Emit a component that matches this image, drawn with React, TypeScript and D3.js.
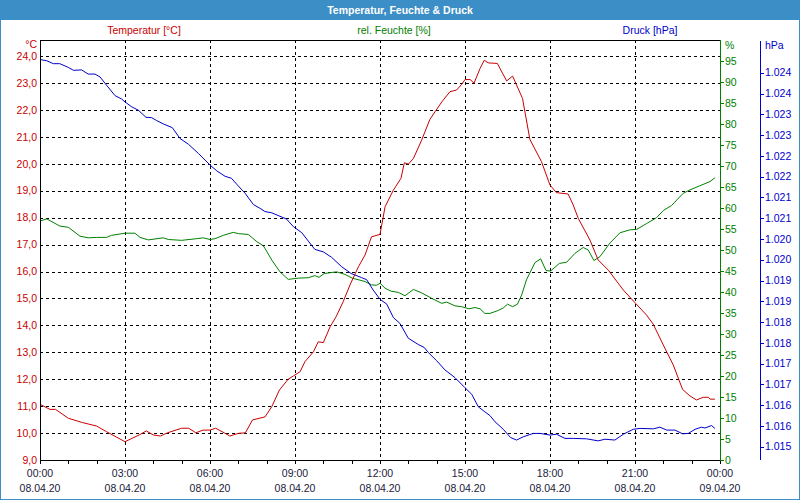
import * as d3 from "d3";

// [hour of day, value], 08.04.20
const tempSeries: [number, number][] = [
  [0, 11.07], [0.35, 10.88], [0.55, 10.88], [1, 10.55], [1.5, 10.39], [2, 10.26], [2.35, 10.05],
  [3, 9.68], [3.5, 9.93], [3.75, 10.08], [4, 9.93], [4.25, 9.89], [4.5, 10.01], [5, 10.18],
  [5.25, 10.18], [5.5, 10.01], [5.75, 10.11], [6, 10.11], [6.2, 10.18], [6.5, 10.01], [6.7, 9.89],
  [7, 9.99], [7.25, 10.01], [7.5, 10.49], [7.94, 10.6], [8.18, 10.98], [8.45, 11.6], [8.76, 12.0],
  [8.94, 12.12], [9.18, 12.28], [9.35, 12.65], [9.65, 13.02], [9.82, 13.39], [10, 13.36],
  [10.24, 13.95], [10.45, 14.32], [10.7, 14.88], [10.94, 15.5], [11.24, 16.18], [11.47, 16.61],
  [11.7, 17.29], [12, 17.38], [12.18, 18.41], [12.47, 19.02], [12.74, 19.46], [12.86, 20.04],
  [13.0, 19.99], [13.18, 20.2], [13.47, 20.88], [13.76, 21.65], [13.94, 21.93], [14.18, 22.3],
  [14.47, 22.68], [14.7, 22.74], [14.88, 22.95], [15.0, 23.13], [15.18, 23.13], [15.32, 23.0],
  [15.53, 23.54], [15.68, 23.85], [15.82, 23.75], [16.14, 23.73], [16.47, 23.08], [16.68, 23.26],
  [17.03, 22.43], [17.29, 20.91], [17.7, 20.08], [18, 19.21], [18.23, 18.93], [18.64, 18.88],
  [18.82, 18.47], [19.0, 17.97], [19.41, 17.17], [19.7, 16.43], [20.06, 16.05], [20.59, 15.31],
  [21.02, 14.82], [21.41, 14.38], [21.64, 14.05], [22.0, 13.27], [22.35, 12.53], [22.68, 11.62],
  [22.94, 11.38], [23.17, 11.23], [23.41, 11.33], [23.59, 11.33], [23.65, 11.26], [23.82, 11.26],
];

const humiditySeries: [number, number][] = [
  [0, 56.9], [0.24, 57.4], [0.7, 55.7], [1, 55.4], [1.41, 53.3], [1.7, 52.9], [2, 53.0],
  [2.35, 53.0], [2.53, 53.5], [3, 54.0], [3.35, 54.0], [3.53, 53.0], [3.82, 52.4], [4.35, 52.9],
  [4.53, 52.5], [5, 52.3], [5.53, 52.7], [5.76, 52.9], [6, 52.5], [6.18, 52.7], [6.47, 53.5],
  [6.82, 54.2], [7, 53.9], [7.35, 53.7], [7.65, 52.0], [7.88, 51.0], [7.94, 50.4], [8.18, 47.6],
  [8.47, 44.8], [8.76, 43.0], [9.12, 43.3], [9.47, 43.4], [9.7, 43.9], [9.85, 43.5], [10.03, 44.4],
  [10.47, 44.8], [10.76, 44.2], [11.02, 43.3], [11.47, 42.5], [11.7, 41.7], [11.88, 41.6],
  [12, 42.1], [12.18, 40.9], [12.39, 40.2], [12.65, 39.9], [12.88, 39.1], [13.18, 40.6],
  [13.47, 39.8], [13.82, 38.5], [14.18, 37.3], [14.35, 37.6], [14.65, 36.7], [14.88, 36.5],
  [15.14, 36.0], [15.35, 36.3], [15.53, 36.0], [15.7, 34.9], [15.88, 34.9], [16.17, 35.6],
  [16.35, 36.2], [16.5, 37.1], [16.68, 36.5], [16.85, 37.1], [17.0, 39.3], [17.17, 42.9],
  [17.47, 47.0], [17.67, 47.9], [17.86, 45.1], [18.02, 45.0], [18.33, 46.8], [18.59, 47.1],
  [18.88, 49.2], [19.17, 50.6], [19.35, 50.0], [19.55, 47.5], [19.76, 48.4], [20.12, 51.7],
  [20.47, 54.1], [20.82, 54.8], [21.06, 54.9], [21.41, 56.3], [21.76, 57.7], [22.0, 59.4],
  [22.29, 60.6], [22.7, 63.5], [22.94, 64.3], [23.29, 65.3], [23.65, 66.3], [23.82, 67.2],
];

const pressureSeries: [number, number][] = [
  [0, 1024.32], [0.24, 1024.29], [0.47, 1024.22], [0.7, 1024.22], [1, 1024.13], [1.18, 1024.06],
  [1.47, 1024.07], [1.7, 1023.97], [1.94, 1023.97], [2.12, 1023.9], [2.35, 1023.7], [2.65, 1023.45],
  [2.88, 1023.37], [3, 1023.3], [3.24, 1023.18], [3.47, 1023.1], [3.74, 1022.93], [3.94, 1022.92],
  [4.12, 1022.85], [4.35, 1022.77], [4.67, 1022.68], [4.94, 1022.42], [5.24, 1022.28],
  [5.59, 1022.06], [6, 1021.78], [6.24, 1021.64], [6.53, 1021.51], [6.76, 1021.46], [6.94, 1021.32],
  [7.24, 1021.1], [7.53, 1020.83], [7.76, 1020.74], [7.94, 1020.66], [8.18, 1020.63], [8.7, 1020.48],
  [8.94, 1020.3], [9.24, 1020.15], [9.7, 1019.75], [10.0, 1019.69], [10.29, 1019.56],
  [10.65, 1019.33], [10.98, 1019.17], [11.35, 1019.07], [11.53, 1019.02], [11.76, 1018.77],
  [12, 1018.55], [12.24, 1018.43], [12.47, 1018.11], [12.7, 1017.97], [13.0, 1017.61],
  [13.35, 1017.46], [13.56, 1017.39], [13.7, 1017.27], [14.0, 1017.07], [14.29, 1016.85],
  [14.65, 1016.66], [15, 1016.42], [15.24, 1016.26], [15.47, 1015.96], [15.7, 1015.84],
  [15.88, 1015.75], [16.06, 1015.6], [16.35, 1015.42], [16.61, 1015.22], [16.82, 1015.16],
  [17.06, 1015.24], [17.41, 1015.32], [17.65, 1015.32], [18, 1015.28], [18.23, 1015.3],
  [18.53, 1015.2], [18.82, 1015.2], [19.29, 1015.19], [19.7, 1015.14], [19.94, 1015.18],
  [20.29, 1015.16], [20.59, 1015.3], [20.94, 1015.42], [21.18, 1015.44], [21.65, 1015.43],
  [21.88, 1015.47], [22.12, 1015.4], [22.41, 1015.4], [22.68, 1015.31], [22.88, 1015.32],
  [23.12, 1015.42], [23.35, 1015.47], [23.47, 1015.45], [23.7, 1015.51], [23.82, 1015.44],
];

const tempTicks = d3.range(9, 25);
const humidityTicks = d3.range(0, 100, 5);
const pressureTicks = d3.range(1015, 1024.01, 0.5);
const pressureTickLabels = [
  "1.015", "1.016", "1.016", "1.017", "1.017", "1.018", "1.018", "1.019", "1.019", "1.020",
  "1.020", "1.021", "1.021", "1.022", "1.022", "1.023", "1.023", "1.024", "1.024",
];

const W = 800;
const H = 500;
const left = 40, right = 720, top = 40, bottom = 460;
const FONT = "Liberation Sans, Arial, sans-serif";
const FRAME = "#3c8ec6";
const RED = "#c80000";
const GREEN = "#008000";
const BLUE = "#0000cc";

const t0 = new Date(2020, 3, 8, 0, 0);
const t1 = new Date(2020, 3, 9, 0, 0);
const toDate = (h: number) => new Date(t0.getTime() + h * 3600 * 1000);

export default function App() {
  const x = d3.scaleTime().domain([t0, t1]).range([left, right]);
  const yT = d3.scaleLinear().domain([9, 24.6]).range([bottom, top]);
  const yH = d3.scaleLinear().domain([0, 100]).range([bottom, top]);
  const yP = d3.scaleLinear().domain([1014.68, 1024.79]).range([bottom, top]);

  const mk = (y: d3.ScaleLinear<number, number>) =>
    d3.line<[number, number]>()
      .x(d => x(toDate(d[0])))
      .y(d => y(d[1]));

  const majorTicks = x.ticks(d3.timeHour.every(3)!);
  const minorTicks = x.ticks(d3.timeHour.every(1)!);
  const fmtTime = d3.timeFormat("%H:%M");
  const fmtDate = d3.timeFormat("%d.%m.%y");
  const fmtT = (v: number) => d3.format(".1f")(v).replace(".", ",");
  const pAxisX = 760;

  return (
    <div style={{ position: "absolute", left: 0, top: 0 }}>
      <svg width={W} height={H} style={{ display: "block", fontFamily: FONT }}>
        <rect x={0} y={0} width={W} height={H} fill="#fff" />
        <rect x={0.5} y={0.5} width={W - 1} height={H - 1} fill="none" stroke={FRAME} />
        <rect x={0} y={0} width={W} height={20} fill={FRAME} />
        <text x={W / 2} y={10} dy="0.35em" textAnchor="middle" fill="#fff" fontWeight="bold" fontSize={10.5}>
          Temperatur, Feuchte &amp; Druck
        </text>

        {/* legend captions */}
        <text x={144} y={30} dy="0.35em" textAnchor="middle" fill={RED} fontSize={10.5}>Temperatur [°C]</text>
        <text x={394} y={30} dy="0.35em" textAnchor="middle" fill={GREEN} fontSize={10.5}>rel. Feuchte [%]</text>
        <text x={650} y={30} dy="0.35em" textAnchor="middle" fill={BLUE} fontSize={10.5}>Druck [hPa]</text>

        {/* grid */}
        <g stroke="#000" strokeDasharray="3,3" shapeRendering="crispEdges">
          {tempTicks.filter(v => v > 9).map(v => (
            <line key={"h" + v} x1={left} x2={right} y1={Math.round(yT(v)) + 0.5} y2={Math.round(yT(v)) + 0.5} />
          ))}
          {majorTicks.slice(1, -1).map(d => (
            <line key={"v" + d.getTime()} x1={Math.round(x(d)) + 0.5} x2={Math.round(x(d)) + 0.5} y1={top} y2={bottom} />
          ))}
        </g>

        {/* series */}
        <g fill="none" strokeWidth={1}>
          <path d={mk(yH)(humiditySeries)!} stroke={GREEN} />
          <path d={mk(yP)(pressureSeries)!} stroke={BLUE} />
          <path d={mk(yT)(tempSeries)!} stroke={RED} />
        </g>

        {/* frame of plot */}
        <g shapeRendering="crispEdges">
          <line x1={left} x2={right} y1={top + 0.5} y2={top + 0.5} stroke="#000" />
          <line x1={left + 0.5} x2={left + 0.5} y1={top} y2={bottom} stroke="#000" />
          <line x1={left} x2={right} y1={bottom + 0.5} y2={bottom + 0.5} stroke="#000" />
          <line x1={right + 0.5} x2={right + 0.5} y1={top} y2={bottom + 1} stroke={GREEN} />
          <line x1={pAxisX + 0.5} x2={pAxisX + 0.5} y1={top + 1} y2={bottom} stroke={BLUE} />
        </g>

        {/* x axis */}
        <g shapeRendering="crispEdges" stroke="#000">
          {minorTicks.map(d => (
            <line key={"m" + d.getTime()} x1={Math.round(x(d)) + 0.5} x2={Math.round(x(d)) + 0.5} y1={bottom} y2={bottom + 4} />
          ))}
        </g>
        <g fontSize={10.5} fill="#1a1a3a" textAnchor="middle">
          {majorTicks.map(d => (
            <g key={"l" + d.getTime()}>
              <text x={x(d)} y={473} dy="0.35em">{fmtTime(d)}</text>
              <text x={x(d)} y={488} dy="0.35em">{fmtDate(d)}</text>
            </g>
          ))}
        </g>

        {/* temperature axis */}
        <g fontSize={10.5} fill={RED} textAnchor="end">
          <text x={37} y={44} dy="0.35em">°C</text>
          {tempTicks.map(v => (
            <text key={"t" + v} x={37} y={yT(v)} dy="0.35em">{fmtT(v)}</text>
          ))}
        </g>

        {/* humidity axis */}
        <g shapeRendering="crispEdges" stroke={GREEN}>
          {humidityTicks.map(v => (
            <line key={"ht" + v} x1={right} x2={right + 4} y1={Math.round(yH(v)) + 0.5} y2={Math.round(yH(v)) + 0.5} />
          ))}
        </g>
        <g fontSize={10.5} fill={GREEN}>
          <text x={725} y={45} dy="0.35em">%</text>
          {humidityTicks.map(v => (
            <text key={"hl" + v} x={725} y={yH(v)} dy="0.35em">{v}</text>
          ))}
        </g>

        {/* pressure axis */}
        <g shapeRendering="crispEdges" stroke={BLUE}>
          {pressureTicks.map(v => (
            <line key={"pt" + v} x1={pAxisX} x2={pAxisX + 4} y1={Math.round(yP(v)) + 0.5} y2={Math.round(yP(v)) + 0.5} />
          ))}
        </g>
        <g fontSize={10.5} fill={BLUE}>
          <text x={765} y={45} dy="0.35em">hPa</text>
          {pressureTicks.map((v, i) => (
            <text key={"pl" + v} x={765} y={yP(v)} dy="0.35em">{pressureTickLabels[i]}</text>
          ))}
        </g>
      </svg>
    </div>
  );
}
